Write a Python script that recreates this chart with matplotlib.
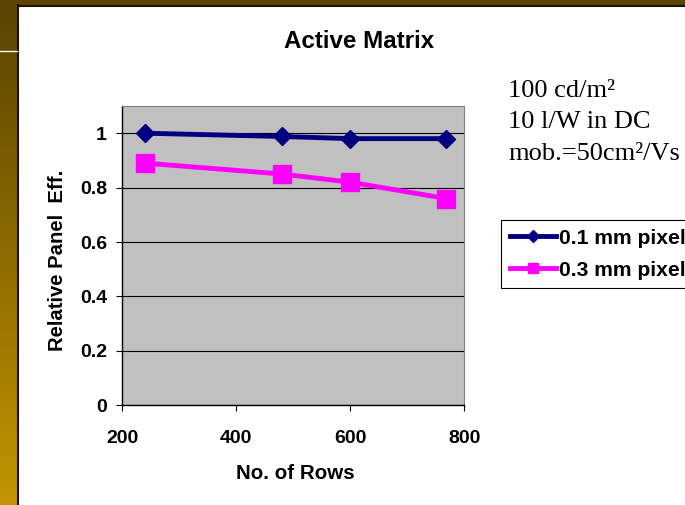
import numpy as np
import matplotlib.pyplot as plt
from matplotlib.colors import LinearSegmentedColormap
from matplotlib.patches import Rectangle

# data
rows = [240, 480, 600, 768]
eff_01mm = [1.0, 0.988, 0.98, 0.98]
eff_03mm = [0.89, 0.85, 0.82, 0.76]
series_names = ["0.1 mm pixel", "0.3 mm pixel"]
y_ticks = [0, 0.2, 0.4, 0.6, 0.8, 1.0]
y_tick_labels = ["0", "0.2", "0.4", "0.6", "0.8", "1"]
x_ticks = [200, 400, 600, 800]
notes = ["100 cd/m\u00b2", "10 l/W in DC", "mob.=50cm\u00b2/Vs"]

W, H = 685, 505
sans = "Liberation Sans"
serif = "Liberation Serif"

fig = plt.figure(figsize=(W / 100, H / 100), dpi=100)
fig.patch.set_facecolor("white")

# slide decoration: gold strip on the left, dark band on top
strip = fig.add_axes([0, 0, 17 / W, 1])
grad = np.linspace(0, 1, 256).reshape(-1, 1)
cmap = LinearSegmentedColormap.from_list("gold", ["#5a4300", "#c29500"])
strip.imshow(grad, aspect="auto", cmap=cmap, extent=[0, 1, 0, 1], origin="upper")
strip.axis("off")
fig.add_artist(Rectangle((0, 1 - 5 / H), 1, 5 / H, transform=fig.transFigure,
                         color="#5c4300", zorder=5))
fig.add_artist(plt.Line2D([17.5 / W, 17.5 / W], [0, 1 - 5 / H], transform=fig.transFigure,
                          color="#1a1200", lw=1.5, zorder=6))
fig.add_artist(plt.Line2D([17.5 / W, 1], [1 - 5.5 / H, 1 - 5.5 / H], transform=fig.transFigure,
                          color="#1a1200", lw=1.5, zorder=6))
fig.add_artist(plt.Line2D([0, 17 / W], [1 - 51 / H, 1 - 51 / H], transform=fig.transFigure,
                          color="white", lw=1, zorder=6))

# chart
left, right, bottom, top = 122.3, 464.3, 405.3, 106
ax = fig.add_axes([left / W, 1 - bottom / H, (right - left) / W, (bottom - top) / H])
ax.set_facecolor("#c0c0c0")
ax.plot(rows, eff_01mm, color="#000080", lw=3.5, marker="D", ms=9.5,
        label=series_names[0], zorder=4)
ax.plot(rows, eff_03mm, color="#ff00ff", lw=3.5, marker="s", ms=13,
        label=series_names[1], zorder=3)

ax.set_xlim(200, 800)
ax.set_ylim(0, 1.1)
ax.set_xticks(x_ticks)
ax.set_yticks(y_ticks)
ax.set_yticklabels(y_tick_labels)
ax.yaxis.grid(True, color="black", lw=0.8)
ax.set_axisbelow(True)
ax.tick_params(direction="out", length=4.5, width=0.8, color="black")
ax.tick_params(axis="y", pad=6.5)
ax.tick_params(axis="x", pad=13)
for lab in ax.get_xticklabels() + ax.get_yticklabels():
    lab.set_fontfamily(sans)
    lab.set_fontweight("bold")
    lab.set_fontsize(14)
for side in ["top", "right"]:
    ax.spines[side].set_color("#808080")
for side in ["left", "bottom"]:
    ax.spines[side].set_color("black")
    ax.spines[side].set_linewidth(1)

fig.text(359.5 / W, 1 - 41 / H, "Active Matrix", ha="center", va="center",
         family=sans, weight="bold", fontsize=17.4)
fig.text(295 / W, 1 - 473.5 / H, "No. of Rows", ha="center", va="center",
         family=sans, weight="bold", fontsize=14.8)
fig.text(58 / W, 1 - 260.5 / H, "Relative Panel  Eff.", ha="center", va="center",
         rotation=90, family=sans, weight="bold", fontsize=14.6)

for i, note in enumerate(notes):
    fig.text(508 / W, 1 - (97 + 31.5 * i) / H, note, ha="left", va="baseline",
             family=serif, fontsize=19)

# legend runs off the right edge of the slide, as in the original
leg = ax.legend(loc="upper left", bbox_to_anchor=(501 / W, 1 - 220 / H),
                bbox_transform=fig.transFigure, borderaxespad=0, numpoints=1,
                markerscale=0.6, handlelength=2.2, handletextpad=0.12,
                borderpad=0.42, labelspacing=0.6, fancybox=False,
                prop={"family": sans, "weight": "bold", "size": 15.2})
leg.get_frame().set_edgecolor("black")
leg.get_frame().set_linewidth(0.8)
leg.get_frame().set_alpha(1)

fig.savefig("out.png", dpi=100)
